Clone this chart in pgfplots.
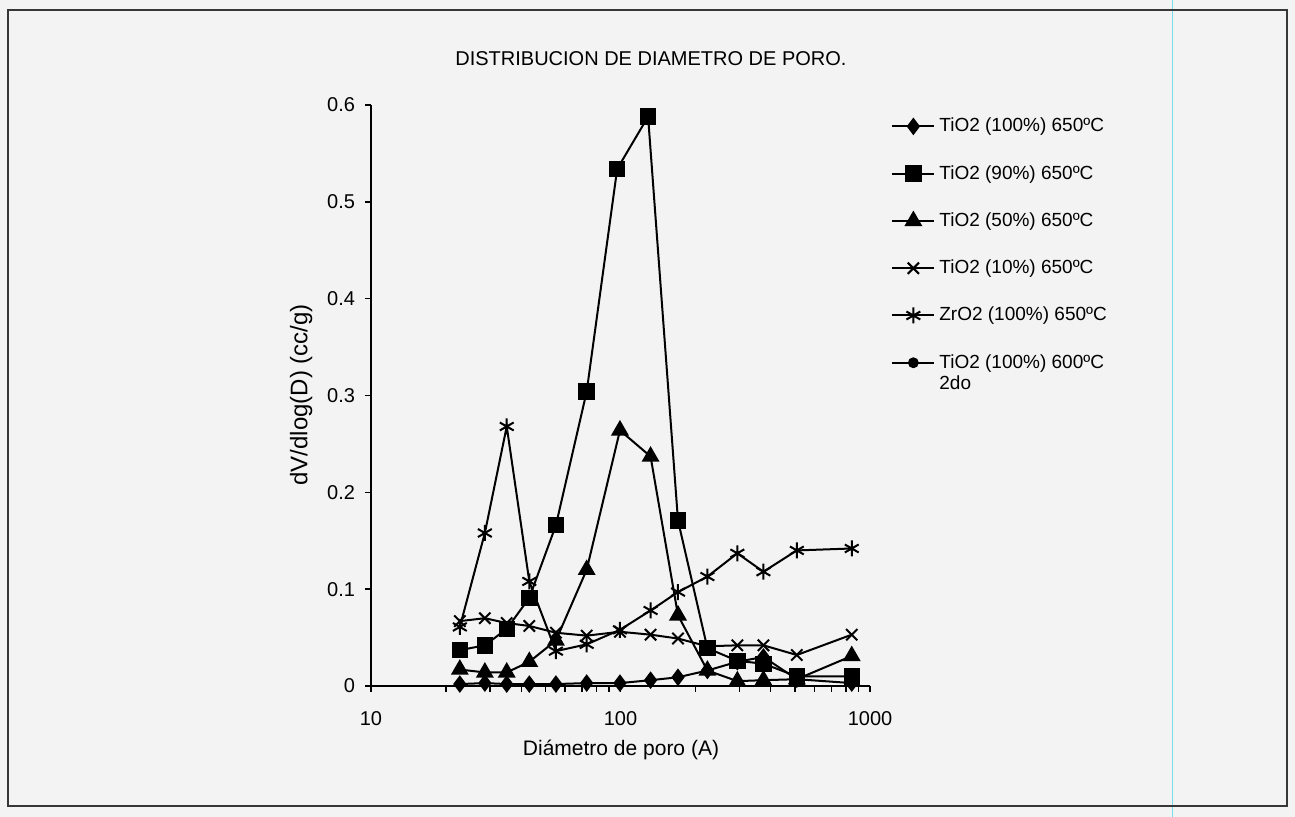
\documentclass[border=0pt]{standalone}
\usepackage{fontspec}
\setmainfont{Liberation Sans}
\usepackage{pgfplots}
\pgfplotsset{compat=1.18}
\definecolor{paper}{RGB}{243,243,243}
\definecolor{framec}{RGB}{55,55,55}
\definecolor{scanline}{RGB}{120,220,235}
\begin{document}
\begin{tikzpicture}[x=1pt,y=1pt]
\useasboundingbox (-185.5,-65.5) rectangle (462,343);
\fill[paper] (-185.5,-65.5) rectangle (462,343);
\draw[scanline, line width=0.5pt] (400.5,-65.5) -- (400.5,343);
\draw[framec, line width=1pt] (-181.5,-60) rectangle (458,338);
\begin{axis}[
  at={(0pt,0pt)}, anchor=south west,
  scale only axis, width=249.5pt, height=290.5pt,
  xmode=log, xmin=10, xmax=1000, ymin=0, ymax=0.6,
  axis x line=bottom, axis y line=left,
  x axis line style={-, line width=1.2pt},
  y axis line style={-, line width=0.7pt},
  xtick={10,100,1000}, xticklabels={10,100,1000},
  minor xtick={20,30,40,50,60,70,80,90,200,300,400,500,600,700,800,900},
  ytick={0,0.1,0.2,0.3,0.4,0.5,0.6},
  yticklabels={0,0.1,0.2,0.3,0.4,0.5,0.6},
  tick align=outside, major tick length=3pt, minor tick length=3pt,
  tick style={black, line width=0.7pt},
  /pgf/number format/assume math mode=true,
  ticklabel style={font=\fontsize{10}{12}\selectfont},
  yticklabel style={xshift=-1.5pt},
  xticklabel style={yshift=-6pt},
  title={DISTRIBUCION DE DIAMETRO DE PORO.},
  title style={at={(axis description cs:0.561,1.060)}, anchor=center, font=\fontsize{10}{12}\selectfont},
  xlabel={Diámetro de poro (A)},
  xlabel style={at={(axis description cs:0.501,-0.110)}, anchor=center, font=\fontsize{10.5}{12}\selectfont},
  ylabel={dV/dlog(D) (cc/g)},
  ylabel style={at={(axis description cs:-0.140,0.501)}, anchor=center, rotate=0, font=\fontsize{12}{14}\selectfont},
  legend style={draw=none, fill=none, at={(axis description cs:1.03,0.992)}, anchor=north west,
    font=\fontsize{9.5}{11}\selectfont, row sep=11.25pt},
  legend cell align=left,
  legend image code/.code={\draw[mark repeat=2,mark phase=2,#1] plot coordinates {(0pt,0pt) (10.5pt,0pt) (21pt,0pt)};},
  every axis plot/.append style={black, line width=1pt, mark options={solid, fill=black}},
]
% TiO2 (100%) 650C
\addplot[mark=diamond*, mark size=3.6pt] coordinates {
(22.7,0.002) (28.6,0.003) (35.0,0.002) (43.1,0.002) (55.1,0.002) (73.2,0.003) (99.5,0.003)
(132,0.006) (170,0.009) (223,0.016) (294,0.025) (374,0.030) (509,0.007) (845,0.003)};
% TiO2 (90%) 650C
\addplot[mark=square*, mark size=3.6pt] coordinates {
(22.7,0.037) (28.6,0.042) (35.0,0.059) (43.1,0.091) (55.1,0.166) (73.2,0.304) (97,0.534)
(129,0.588) (170,0.171) (223,0.039) (294,0.026) (374,0.023) (509,0.010) (845,0.010)};
% TiO2 (50%) 650C
\addplot[mark=triangle*, mark size=4.2pt] coordinates {
(22.7,0.017) (28.6,0.014) (35.0,0.014) (43.1,0.025) (55.1,0.047) (73.2,0.120) (99.5,0.264)
(132,0.237) (170,0.073) (223,0.016) (294,0.005) (374,0.006) (509,0.007) (845,0.031)};
% TiO2 (10%) 650C
\addplot[mark=x, mark size=4pt] coordinates {
(22.7,0.067) (28.6,0.070) (35.0,0.065) (43.1,0.062) (55.1,0.055) (73.2,0.052) (99.5,0.056)
(132,0.053) (170,0.049) (223,0.041) (294,0.042) (374,0.042) (509,0.032) (845,0.053)};
% ZrO2 (100%) 650C
\addplot[mark=asterisk, mark size=4pt] coordinates {
(22.7,0.061) (28.6,0.158) (35.0,0.268) (43.1,0.108) (55.1,0.036) (73.2,0.043) (99.5,0.058)
(132,0.078) (170,0.097) (223,0.113) (294,0.137) (374,0.118) (509,0.140) (845,0.142)};
\addlegendimage{mark=*, mark size=2.2pt}
\legend{TiO2 (100\%) 650ºC, TiO2 (90\%) 650ºC, TiO2 (50\%) 650ºC, TiO2 (10\%) 650ºC, ZrO2 (100\%) 650ºC,
  {\smash{\makebox[0pt][l]{\raisebox{-10.5pt}{2do}}}TiO2 (100\%) 600ºC}}
\end{axis}
\end{tikzpicture}
\end{document}
